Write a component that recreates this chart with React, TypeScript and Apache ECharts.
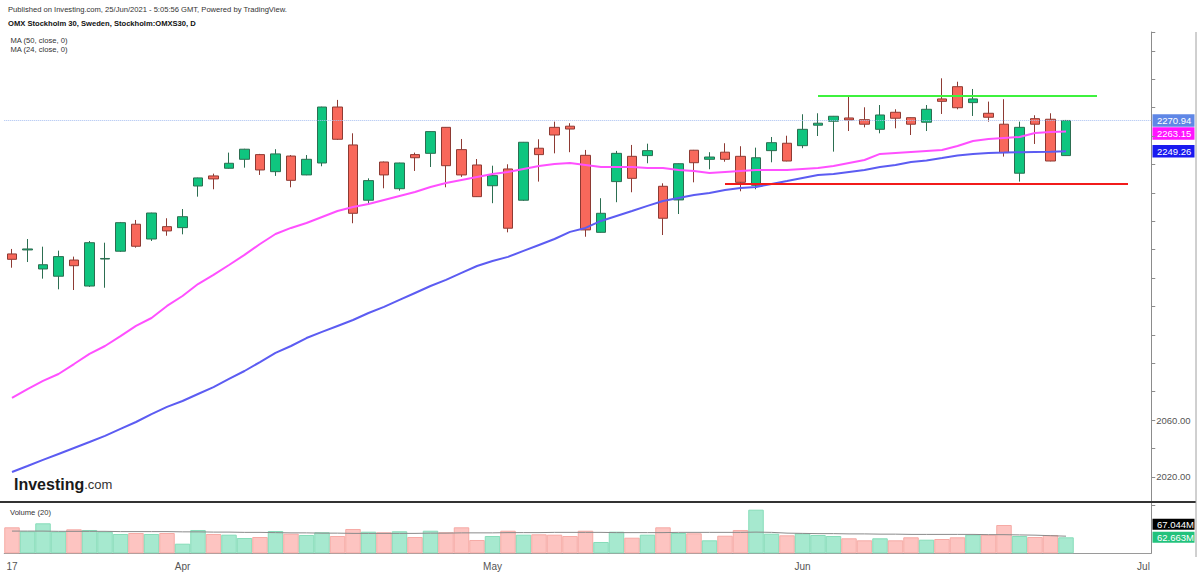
import React, { useEffect, useRef } from "react";
import * as echarts from "echarts";

const dates = [
  "2021-03-17","2021-03-18","2021-03-19","2021-03-22","2021-03-23","2021-03-24","2021-03-25","2021-03-26","2021-03-29","2021-03-30","2021-03-31",
  "2021-04-01","2021-04-06","2021-04-07","2021-04-08","2021-04-09","2021-04-12","2021-04-13","2021-04-14","2021-04-15","2021-04-16","2021-04-19","2021-04-20","2021-04-21","2021-04-22","2021-04-23","2021-04-26","2021-04-27","2021-04-28","2021-04-29","2021-04-30",
  "2021-05-03","2021-05-04","2021-05-05","2021-05-06","2021-05-07","2021-05-10","2021-05-11","2021-05-12","2021-05-14","2021-05-17","2021-05-18","2021-05-19","2021-05-20","2021-05-21","2021-05-24","2021-05-25","2021-05-26","2021-05-27","2021-05-28","2021-05-31",
  "2021-06-01","2021-06-02","2021-06-03","2021-06-04","2021-06-07","2021-06-08","2021-06-09","2021-06-10","2021-06-11","2021-06-14","2021-06-15","2021-06-16","2021-06-17","2021-06-18","2021-06-21","2021-06-22","2021-06-23","2021-06-24",
  "2021-06-25","2021-06-28","2021-06-29","2021-06-30","2021-07-01",
];

const tickIndices = [0, 4, 11, 15, 19, 23, 27, 31, 35, 39, 43, 47, 51, 55, 59, 63, 67, 73];
const labelIndices = [0, 11, 31, 51, 73];
const labelTexts = ["17", "Apr", "May", "Jun", "Jul"];
const priceLabels = [2060, 2020];

const opens = [2177.0,2179.8,2166.4,2161.3,2172.7,2154.4,2173.4,2178.9,2197.9,2187.5,2196.2,2195.5,2224.8,2231.9,2237.3,2243.6,2246.9,2234.9,2245.9,2232.6,2241.0,2280.4,2253.7,2214.8,2241.7,2222.9,2246.9,2247.8,2266.1,2250.4,2239.6,2225.0,2236.8,2214.8,2251.4,2266.1,2266.9,2246.4,2192.2,2227.9,2245.7,2246.2,2224.6,2215.0,2250.0,2243.6,2248.6,2245.7,2225.3,2249.7,2254.9,2253.2,2267.6,2270.4,2272.7,2271.5,2264.7,2276.7,2272.9,2269.7,2286.1,2294.7,2283.5,2276.0,2268.3,2233.8,2272.2,2271.8,2246.2];
const closes = [2173.2,2180.5,2169.4,2175.1,2168.7,2184.9,2173.8,2199.0,2182.4,2205.8,2193.2,2203.2,2230.5,2229.8,2240.8,2250.7,2236.1,2247.4,2228.8,2243.6,2280.4,2257.7,2205.6,2228.6,2232.6,2241.0,2244.7,2263.1,2239.1,2232.6,2217.3,2232.1,2195.1,2255.6,2246.9,2260.7,2264.9,2193.9,2205.6,2247.8,2230.2,2249.7,2202.1,2240.5,2241.2,2245.2,2243.6,2227.4,2244.7,2255.3,2242.4,2264.7,2269.0,2273.9,2271.3,2268.3,2274.8,2272.5,2268.3,2278.8,2284.4,2279.9,2286.1,2273.2,2248.3,2266.1,2268.3,2242.4,2270.94];
const lows = [2167.3,2171.3,2159.6,2152.1,2151.6,2153.8,2153.2,2178.4,2181.4,2186.1,2189.8,2190.8,2217.3,2222.5,2237.0,2237.7,2232.6,2231.9,2223.9,2232.4,2238.7,2257.2,2198.6,2211.5,2223.2,2221.5,2235.4,2238.2,2223.9,2231.2,2217.1,2212.7,2192.2,2214.3,2227.9,2247.8,2248.6,2189.1,2192.0,2213.4,2220.4,2240.8,2190.3,2205.1,2227.4,2236.6,2241.9,2221.1,2222.5,2241.5,2242.2,2251.4,2260.0,2249.0,2263.5,2266.1,2261.9,2265.4,2260.7,2263.5,2275.5,2278.8,2274.1,2270.1,2245.5,2227.9,2254.4,2242.2,2246.0];
const highs = [2180.5,2187.5,2182.1,2179.3,2175.1,2186.1,2184.9,2199.5,2200.9,2206.0,2202.1,2208.6,2230.7,2233.5,2248.3,2251.0,2247.4,2250.7,2246.6,2246.6,2280.6,2285.4,2261.9,2230.2,2242.0,2241.2,2248.3,2263.3,2266.3,2257.9,2243.8,2239.1,2240.1,2255.8,2257.7,2270.1,2269.0,2250.2,2216.2,2249.5,2253.7,2254.6,2226.7,2240.7,2250.2,2248.6,2254.9,2252.8,2251.8,2259.3,2260.2,2275.3,2276.0,2274.1,2287.5,2280.2,2281.8,2278.8,2273.1,2281.8,2300.6,2298.2,2293.1,2284.2,2285.9,2270.1,2274.6,2276.0,2271.3];

const ma50 = [2023.5,2027.7,2032.0,2036.2,2040.4,2044.6,2048.9,2053.8,2058.7,2064.3,2069.3,2073.5,2078.4,2083.3,2089.0,2094.6,2100.9,2107.3,2112.2,2117.8,2122.1,2126.3,2130.5,2135.4,2139.7,2144.6,2149.5,2154.4,2158.7,2163.6,2168.5,2172.0,2174.9,2179.1,2183.3,2187.5,2192.5,2195.3,2200.2,2203.7,2207.2,2210.8,2214.3,2216.4,2218.5,2219.9,2222.0,2223.4,2224.1,2226.2,2228.3,2230.5,2232.6,2233.3,2234.7,2236.1,2238.2,2239.6,2241.7,2242.8,2244.5,2246.3,2247.4,2248.1,2248.3,2248.6,2248.8,2249.0,2249.26];
const ma24 = [2075.6,2081.9,2087.6,2092.5,2099.5,2106.6,2112.2,2119.2,2126.3,2131.9,2140.4,2147.4,2155.8,2162.2,2169.2,2176.3,2184.0,2191.0,2195.3,2198.8,2203.0,2207.2,2210.0,2212.2,2215.0,2217.8,2220.6,2224.1,2226.9,2229.1,2231.2,2233.3,2234.7,2236.8,2238.9,2240.3,2241.0,2239.6,2238.2,2238.2,2238.2,2237.5,2237.5,2236.1,2235.4,2234.0,2234.7,2235.4,2236.1,2236.1,2236.1,2236.8,2237.5,2238.9,2241.0,2243.1,2247.4,2248.1,2248.8,2249.5,2250.2,2253.0,2256.5,2257.9,2258.6,2259.3,2262.1,2262.8,2263.15];

const volumes = [101.8,86.2,117.5,84.6,94.0,91.3,84.6,75.6,79.5,75.6,79.5,37.6,91.3,75.6,72.9,59.9,63.8,87.3,76.8,71.7,82.3,67.8,95.2,84.6,82.3,86.2,63.8,88.5,82.3,101.8,52.1,67.8,88.5,72.9,74.4,72.9,67.8,88.5,44.3,84.6,61.1,72.9,101.8,79.5,78.3,50.9,68.9,91.3,170.8,76.8,70.5,78.3,71.7,67.8,58.8,50.9,58.8,50.9,62.7,53.3,56.0,62.7,72.9,72.9,110.8,67.8,63.8,71.7,62.663];
const volMA = [87,87,87,86,86,86,86,85,85,85,85,84,84,83,83,82,82,81,80,80,79,79,78,78,78,78,78,79,79,80,80,80,81,81,81,82,82,82,82,81,81,81,81,82,82,82,82,82,83,82,79,78,77,77,76,76,75,75,74,74,74,74,74,73,73,72,71,69,67.044];

const resistance = { from: 52, to: 70, value: 2288.2 };
const support = { from: 46, to: 72, value: 2226.2 };

const FONT = "'Liberation Sans', Arial, sans-serif";
const UP = "#0fc57f";
const DOWN = "#f8685b";
const UP_BORDER = "#2c6e51";
const DOWN_BORDER = "#8e3a33";

export default function App() {
  const ref = useRef<HTMLDivElement>(null);

  useEffect(() => {
    const chart = echarts.init(ref.current as HTMLDivElement, null, { renderer: "svg" });
    const candleData = opens.map((o, i) => [o, closes[i], lows[i], highs[i]]);
    const volData = volumes.map((v, i) => ({
      value: v,
      itemStyle: closes[i] >= opens[i]
        ? { color: "#a6e9cf", borderColor: "#86dcb9" }
        : { color: "#fdc4c1", borderColor: "#f6aaa5" },
    }));

    const option: any = {
      animation: false,
      backgroundColor: "#ffffff",
      textStyle: { fontFamily: FONT },
      grid: [
        { left: 4.25, right: 48.75, top: 32, bottom: 69.6 },
        { left: 4.25, right: 48.75, top: 503, bottom: 21.7 },
      ],
      xAxis: [
        { type: "category", gridIndex: 0, data: dates, boundaryGap: true, show: false },
        {
          type: "category", gridIndex: 1, data: dates, boundaryGap: true, offset: 3.4,
          axisLine: { lineStyle: { color: "#9a9a9a", width: 1 } },
          axisTick: {
            alignWithLabel: true, length: 3, lineStyle: { color: "#777" },
            interval: (idx: number) => tickIndices.includes(idx),
          },
          axisLabel: {
            interval: (idx: number) => labelIndices.includes(idx),
            formatter: (_v: string, idx: number) => {
              const k = labelIndices.indexOf(idx);
              return k >= 0 ? labelTexts[k] : "";
            },
            color: "#555", fontSize: 10, margin: 5, fontFamily: FONT,
          },
          splitLine: { show: false },
        },
      ],
      yAxis: [
        {
          type: "value", gridIndex: 0, position: "right", min: 2000, max: 2333.2, interval: 20,
          scale: true,
          axisLine: { show: true, lineStyle: { color: "#8c8c8c" } },
          axisTick: { show: true, length: 4, lineStyle: { color: "#8c8c8c" } },
          axisLabel: {
            margin: 5, color: "#555", fontSize: 9.5, fontFamily: FONT,
            formatter: (v: number) => (priceLabels.includes(Math.round(v * 100) / 100) ? v.toFixed(2) : ""),
          },
          splitLine: { show: false },
        },
        {
          type: "value", gridIndex: 1, position: "right", min: 0, max: 197,
          axisLine: { show: true, lineStyle: { color: "#8c8c8c" } },
          axisTick: { show: false },
          axisLabel: { show: false },
          splitLine: { show: false },
        },
      ],
      series: [
        {
          type: "candlestick", xAxisIndex: 0, yAxisIndex: 0, data: candleData, barWidth: 10,
          itemStyle: { color: UP, color0: DOWN, borderColor: UP_BORDER, borderColor0: DOWN_BORDER, borderWidth: 1 },
          markLine: {
            silent: true, symbol: ["none", "none"], animation: false,
            label: { show: false },
            data: [
              { yAxis: 2270.94, lineStyle: { color: "#a7bff0", type: "dotted", width: 1 } },
              [
                { coord: [resistance.from, resistance.value], lineStyle: { color: "#3ef23e", type: "solid", width: 2 } },
                { coord: [resistance.to, resistance.value] },
              ],
              [
                { coord: [support.from, support.value], lineStyle: { color: "#f21b1b", type: "solid", width: 2 } },
                { coord: [support.to, support.value] },
              ],
            ],
          },
        },
        {
          type: "line", name: "MA50", xAxisIndex: 0, yAxisIndex: 0, data: ma50, symbol: "none",
          lineStyle: { color: "#5c5cf2", width: 2 }, z: 3,
        },
        {
          type: "line", name: "MA24", xAxisIndex: 0, yAxisIndex: 0, data: ma24, symbol: "none",
          lineStyle: { color: "#ff50ff", width: 2 }, z: 3,
        },
        {
          type: "bar", xAxisIndex: 1, yAxisIndex: 1, data: volData, barWidth: "100%",
          itemStyle: { borderWidth: 1 },
        },
        {
          type: "line", xAxisIndex: 1, yAxisIndex: 1, data: volMA, symbol: "none",
          lineStyle: { color: "#8a8a8a", width: 1 }, z: 3,
        },
      ],
    };
    chart.setOption(option);

    const py = (v: number) => (chart.convertToPixel({ seriesIndex: 0 }, [0, v]) as number[])[1];
    const vy = (v: number) => (chart.convertToPixel({ seriesIndex: 3 }, [0, v]) as number[])[1];
    const last = opens.length - 1;
    const lastY = py(closes[last]);
    const ma24Y = Math.max(py(ma24[last]), lastY + 13);
    const ma50Y = Math.max(py(ma50[last]), ma24Y + 13);
    const volY = vy(volumes[last]);
    const volMAY = Math.min(vy(volMA[last]), volY - 13);

    const box = (y: number, text: string, bg: string, h = 12.5) => ({
      type: "group", z: 100,
      children: [
        { type: "rect", shape: { x: 1152.5, y: y - h / 2, width: 42, height: h }, style: { fill: bg } },
        { type: "text", x: 1157, y, style: { text, fill: "#fff", font: `9.5px ${FONT}`, textVerticalAlign: "middle" } },
      ],
    });

    chart.setOption({
      graphic: [
        { type: "text", x: 8, y: 9, z: 100, style: { text: "Published on Investing.com, 25/Jun/2021 - 5:05:56 GMT, Powered by TradingView.", fill: "#333", font: `7.6px ${FONT}`, textVerticalAlign: "middle" } },
        { type: "text", x: 8, y: 23, z: 100, style: { text: "OMX Stockholm 30, Sweden, Stockholm:OMXS30, D", fill: "#111", font: `bold 7.6px ${FONT}`, textVerticalAlign: "middle" } },
        { type: "text", x: 10.5, y: 40, z: 100, style: { text: "MA (50, close, 0)", fill: "#333", font: `7.6px ${FONT}`, textVerticalAlign: "middle" } },
        { type: "text", x: 10.5, y: 49, z: 100, style: { text: "MA (24, close, 0)", fill: "#333", font: `7.6px ${FONT}`, textVerticalAlign: "middle" } },
        { type: "text", x: 10, y: 512, z: 100, style: { text: "Volume (20)", fill: "#333", font: `7.6px ${FONT}`, textVerticalAlign: "middle" } },
        {
          type: "text", x: 14, y: 484, z: 100,
          style: {
            text: "{a|Investing}{b|.com}", textVerticalAlign: "middle",
            rich: {
              a: { fontFamily: FONT, fontSize: 16, fontWeight: "bold", fill: "#1a1a1a", color: "#1a1a1a" },
              b: { fontFamily: FONT, fontSize: 13, fill: "#333", color: "#333" },
            },
          },
        },
        { type: "line", z: 100, shape: { x1: 0, y1: 502, x2: 1196, y2: 502 }, style: { stroke: "#333", lineWidth: 2 } },
        { type: "line", z: 100, shape: { x1: 1196, y1: 32, x2: 1196, y2: 557 }, style: { stroke: "#a0a0a0", lineWidth: 1 } },
        box(lastY, closes[last].toFixed(2), "#5f87e6"),
        box(ma24Y, ma24[last].toFixed(2), "#ff14ff"),
        box(ma50Y, ma50[last].toFixed(2), "#1a1af0"),
        box(volMAY, volMA[last].toFixed(3) + "M", "#000000", 11),
        box(volY, volumes[last].toFixed(3) + "M", "#22c27c", 11),
      ],
    });

    return () => chart.dispose();
  }, []);

  return (
    <div
      ref={ref}
      style={{ position: "fixed", left: 0, top: 0, width: 1200, height: 575, background: "#fff" }}
    />
  );
}
